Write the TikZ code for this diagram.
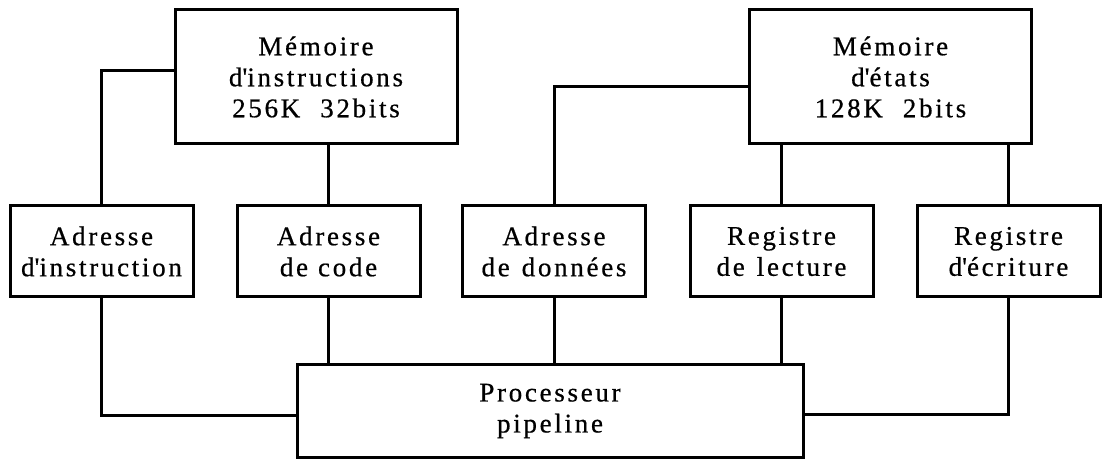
\documentclass[tikz,border=0pt]{standalone}
\usepackage{fontspec}
\setmainfont{Liberation Serif}[LetterSpace=10,FakeBold=0.6]
\newcommand\myq{\textquotesingle}
\begin{document}
\begin{tikzpicture}[x=0.5pt,y=-0.5pt,
  box/.style={draw, line width=1.5pt, inner sep=0pt, align=center,
    font=\fontsize{13.5}{15.5}\selectfont},
  membox/.style={box, minimum width=141pt, minimum height=67pt},
  regbox/.style={box, minimum width=91.5pt, minimum height=45.5pt},
  wire/.style={line width=1.5pt}]
\useasboundingbox (0,0) rectangle (1102,459);
\fill[white] (0,0) rectangle (1102,459);
% memories
\node[membox] (mi) at (316,77) {Mémoire\\d\myq instructions\\256K\hspace{10pt}32bits};
\node[membox] (me) at (890.5,77) {Mémoire\\d\myq états\\128K\hspace{10pt}2bits};
% registers
\node[regbox] (ai) at (101.5,251.5) {Adresse\\d\myq instruction};
\node[regbox] (ac) at (328.5,251.5) {Adresse\\de\hspace{5pt}code};
\node[regbox] (ad) at (554,251.5) {Adresse\\de\hspace{6pt}données};
\node[regbox] (rl) at (781.5,251.5) {Registre\\de\hspace{6pt}lecture};
\node[regbox] (re) at (1008.5,251.5) {Registre\\d\myq écriture};
% processor
\node[box, minimum width=253pt, minimum height=46pt] (pp) at (550,411) {Processeur\\pipeline};
% connectors top
\draw[wire] (ai.north) |- ([yshift=3pt]mi.west);
\draw[wire] (ac.north) -- (ac.north |- mi.south);
\draw[wire] (ad.north) |- ([yshift=-5pt]me.west);
\draw[wire] (rl.north) -- (rl.north |- me.south);
\draw[wire] (re.north) -- (re.north |- me.south);
% connectors bottom
\draw[wire] (ai.south) |- ([yshift=-2pt]pp.west);
\draw[wire] (ac.south) -- (ac.south |- pp.north);
\draw[wire] (ad.south) -- (ad.south |- pp.north);
\draw[wire] (rl.south) -- (rl.south |- pp.north);
\draw[wire] (re.south) |- ([yshift=-1.5pt]pp.east);
\end{tikzpicture}
\end{document}
